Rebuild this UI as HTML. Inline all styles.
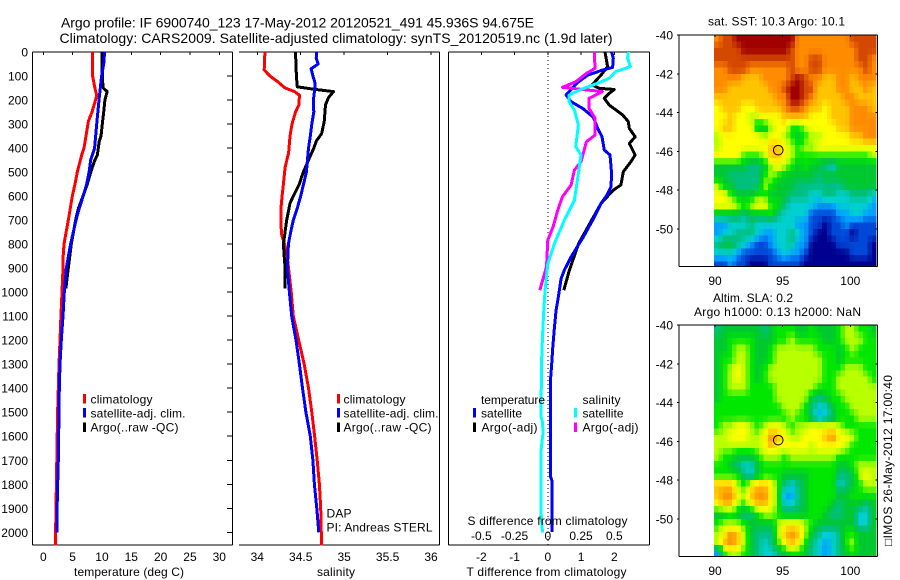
<!DOCTYPE html>
<html>
<head>
<meta charset="utf-8">
<style>
html,body{margin:0;padding:0;background:#fff;}
body{width:900px;height:580px;overflow:hidden;}
svg{display:block;}
text{font-family:"Liberation Sans",sans-serif;font-size:12px;fill:#000;}
.t{font-size:14px;}
</style>
</head>
<body>
<svg id="fig" xmlns="http://www.w3.org/2000/svg" width="900" height="580" viewBox="0 0 900 580">
<rect x="0" y="0" width="900" height="580" fill="#fff"/>
<text class="t" x="61" y="27.5" textLength="473" lengthAdjust="spacing">Argo profile: IF 6900740_123 17-May-2012 20120521_491 45.936S 94.675E</text>
<text class="t" x="59.5" y="43" textLength="553" lengthAdjust="spacing">Climatology: CARS2009. Satellite-adjusted climatology: synTS_20120519.nc (1.9d later)</text>

<g id="layer"></g>

<g>
<rect x="83" y="394" width="3" height="9.5" fill="#f00"/>
<rect x="83" y="408" width="3" height="9.5" fill="#00f"/>
<rect x="83" y="422.5" width="3" height="9.5" fill="#000"/>
<text x="90.5" y="403.5" textLength="62" lengthAdjust="spacing">climatology</text>
<text x="90.5" y="417.5" textLength="95" lengthAdjust="spacing">satellite-adj. clim.</text>
<text x="90.5" y="431.5" textLength="88" lengthAdjust="spacing">Argo(..raw -QC)</text>
</g>
<g>
<rect x="337" y="394" width="3" height="9.5" fill="#f00"/>
<rect x="337" y="408" width="3" height="9.5" fill="#00f"/>
<rect x="337" y="422.5" width="3" height="9.5" fill="#000"/>
<text x="343.5" y="403.5" textLength="62" lengthAdjust="spacing">climatology</text>
<text x="343.5" y="417.5" textLength="95" lengthAdjust="spacing">satellite-adj. clim.</text>
<text x="343.5" y="431.5" textLength="88" lengthAdjust="spacing">Argo(..raw -QC)</text>
</g>
<text x="326.5" y="517.5" textLength="25" lengthAdjust="spacing">DAP</text>
<text x="326.5" y="531.5" textLength="106" lengthAdjust="spacing">PI: Andreas STERL</text>
<g>
<text x="481" y="404" textLength="64" lengthAdjust="spacing">temperature</text>
<rect x="473" y="408" width="3" height="9.5" fill="#00f"/>
<rect x="473" y="422.5" width="3" height="9.5" fill="#000"/>
<text x="481" y="417.5" textLength="41" lengthAdjust="spacing">satellite</text>
<text x="481.5" y="431.5" textLength="56" lengthAdjust="spacing">Argo(-adj)</text>
<text x="582.5" y="404" textLength="38" lengthAdjust="spacing">salinity</text>
<rect x="574" y="408" width="3" height="9.5" fill="#0ff"/>
<rect x="574" y="422.5" width="3" height="9.5" fill="#f0f"/>
<text x="582.5" y="417.5" textLength="41" lengthAdjust="spacing">satellite</text>
<text x="582.5" y="431.5" textLength="56" lengthAdjust="spacing">Argo(-adj)</text>
</g>
<text x="74" y="576" textLength="110" lengthAdjust="spacing">temperature (deg C)</text>
<text x="317" y="576" textLength="38" lengthAdjust="spacing">salinity</text>
<text x="466.5" y="576" textLength="160" lengthAdjust="spacing">T difference from climatology</text>
<text x="467.5" y="525" textLength="160" lengthAdjust="spacing">S difference from climatology</text>
<text x="708" y="25.5" textLength="137" lengthAdjust="spacing">sat. SST: 10.3 Argo: 10.1</text>
<text x="713" y="302" textLength="80" lengthAdjust="spacing">Altim. SLA: 0.2</text>
<text x="694" y="316" textLength="167" lengthAdjust="spacing">Argo h1000: 0.13 h2000: NaN</text>
<text transform="translate(892,546) rotate(-90)" x="0" y="0" textLength="171" lengthAdjust="spacing">□IMOS 26-May-2012 17:00:40</text>
</svg>

<script>
// ---------- axis tick data ----------
const depthTicks = [0,100,200,300,400,500,600,700,800,900,1000,1100,1200,1300,1400,1500,1600,1700,1800,1900,2000];
const tempTicks = [0,5,10,15,20,25,30];
const salTicks = [34,34.5,35,35.5,36];
const salTickLabels = ['34','34.5','35','35.5','36'];
const tDiffTicks = [-2,-1,0,1,2];
const sDiffTicks = [-0.5,-0.25,0,0.25,0.5];
const sDiffTickLabels = ['-0.5','-0.25','0','0.25','0.5'];
const lonTicks = [90,95,100];
const latTicks = [-40,-42,-44,-46,-48,-50];
const argoLon = 94.675;
const argoLat = -45.936;

// ---------- temperature panel ----------
const tClimDepth = [0,100,150,180,200,250,290,350,400,430,500,550,600,700,800,850,900,1000,1100,1200,1300,1500,1750,2000,2055];
const tClimVal = [8.35,8.4,8.8,9.1,8.9,8.3,7.67,7.27,6.93,6.53,5.8,5.4,4.94,4.26,3.52,3.4,3.35,3.18,3.0,2.84,2.67,2.44,2.27,2.1,2.1];
const tSatDepth = [0,50,100,200,300,400,450,500,550,600,650,700,800,900,1000,1100,1200,1300,1400,1500,1700,1850,2000];
const tSatVal = [10.45,10.3,9.94,9.5,9.1,8.75,8.07,7.8,7.4,6.8,6.14,5.57,4.66,3.92,3.58,3.35,3.07,2.84,2.73,2.67,2.56,2.39,2.33];
const tArgoDepth = [0,100,150,165,200,250,300,350,370,430,450,480,500,550,600,650,700,800,900,985];
const tArgoVal = [10,10.06,10.2,10.9,10.5,10.3,10.06,9.83,9.55,9.2,8.8,8.35,8.1,7.5,6.76,6,5.5,4.77,4.26,3.86];

// ---------- salinity panel ----------
const sClimDepth = [0,75,100,125,150,165,180,220,250,300,350,420,480,550,600,650,720,760,830,1000,1100,1200,1300,1400,1500,1600,1700,1800,1900,2055];
const sClimVal = [34.088,34.08,34.146,34.24,34.32,34.43,34.485,34.48,34.44,34.4,34.377,34.36,34.32,34.3,34.285,34.273,34.273,34.28,34.338,34.39,34.415,34.477,34.54,34.59,34.627,34.66,34.69,34.715,34.73,34.74];
const sSatDepth = [0,25,50,70,100,130,160,200,250,300,350,400,500,600,650,700,750,800,900,1000,1100,1200,1300,1400,1500,1600,1700,1800,1900,2000];
const sSatVal = [34.685,34.678,34.7,34.62,34.64,34.665,34.66,34.646,34.65,34.627,34.61,34.59,34.565,34.5,34.46,34.415,34.385,34.358,34.346,34.37,34.396,34.446,34.485,34.52,34.56,34.61,34.64,34.658,34.685,34.708];
const sArgoDepth = [0,100,145,155,165,190,220,290,340,370,400,450,500,520,550,600,630,700,800,850,900,985];
const sArgoVal = [34.44,34.45,34.46,34.646,34.877,34.82,34.785,34.77,34.74,34.68,34.65,34.59,34.53,34.51,34.485,34.415,34.377,34.338,34.3,34.31,34.32,34.32];

// ---------- difference panel ----------
const dtSatDepth = [0,26,64,75,96,130,179,207,235,272,318,353,408,429,505,561,596,631,700,770,853,908,943,1019,1075,1144,1228,1311,1366,1769,1783,1998];
const dtSatVal = [1.92,1.97,1.95,1.65,1.2,0.87,0.55,0.7,1.05,1.37,1.5,1.63,1.7,1.87,1.92,1.9,1.78,1.6,1.35,1.07,0.7,0.5,0.4,0.32,0.25,0.2,0.15,0.11,0.08,0.08,0.12,0.12];
const dtArgoDepth = [0,61,96,137,151,156,172,193,221,262,290,318,353,381,429,457,499,554,575,631,700,797,908,992];
const dtArgoVal = [1.72,1.8,1.6,1.33,1.55,2.0,1.85,1.7,1.85,2.25,2.42,2.45,2.63,2.45,2.63,2.5,2.27,2.2,1.97,1.6,1.32,0.93,0.65,0.48];
const dsSatDepth = [0,26,61,82,110,130,158,179,207,242,304,394,429,505,617,700,797,881,992,1075,1158,1255,1450,1519,1533,1582,1658,1922,2001];
const dsSatVal = [0.605,0.6,0.62,0.51,0.46,0.375,0.24,0.16,0.16,0.2,0.23,0.21,0.25,0.23,0.2,0.125,0.05,0,-0.02,-0.03,-0.0375,-0.045,-0.05,-0.05,-0.042,-0.035,-0.05,-0.05,-0.04];
const dsArgoDepth = [0,68,89,124,147,165,179,193,235,276,346,374,457,492,554,603,658,728,783,894,992];
const dsArgoVal = [0.35,0.355,0.29,0.21,0.11,0.41,0.36,0.31,0.31,0.355,0.355,0.29,0.25,0.2,0.175,0.11,0.075,0.04,0,-0.01,-0.06];

// ---------- maps: colour level per 0.5 degree cell, rows from 40S, columns from 90E ----------
const sstLevels = [
[10,11,11,12,12,12,12,12,12,12,12,12,10,10,10,10,10,10,10,10,11,11,11,11],
[11,11,11,11,12,12,12,12,12,12,12,11,10,10,10,10,10,10,10,10,10,11,11,11],
[11,11,11,11,11,11,11,11,11,11,11,11,10,10,11,11,10,10,10,10,10,11,11,10],
[10,10,11,11,11,10,10,10,10,10,10,11,10,10,11,11,10,10,10,10,10,10,11,10],
[10,10,10,10,9,9,9,10,10,10,10,11,12,11,10,10,9,9,10,10,9,10,10,10],
[10,10,9,9,9,9,9,9,10,10,11,12,12,11,11,9,9,9,10,10,9,9,10,9],
[9,9,9,9,9,9,9,9,9,10,10,12,12,11,10,9,9,9,9,10,10,9,9,9],
[8,9,9,9,8,8,9,9,9,9,10,11,11,10,9,9,8,9,9,9,10,10,10,9],
[8,8,9,8,8,7,7,8,8,8,9,9,9,9,8,8,8,9,9,9,10,10,10,10],
[8,9,9,8,8,8,5,5,7,8,8,6,6,7,8,8,8,8,9,9,10,10,10,10],
[7,8,8,8,8,8,8,7,8,8,7,6,5,6,7,7,8,8,8,8,9,9,10,10],
[7,8,8,8,8,8,8,8,9,9,8,7,6,7,7,8,8,8,8,8,8,8,8,8],
[8,8,8,8,6,6,6,7,9,9,8,7,6,6,6,6,6,6,6,6,6,6,6,7],
[5,5,5,5,5,4,4,5,7,8,7,6,5,6,5,5,4,3,5,5,5,5,5,5],
[5,5,4,4,4,4,4,6,7,6,5,5,5,5,5,4,5,5,5,5,5,5,5,5],
[7,5,5,4,4,4,4,7,6,5,5,5,4,4,4,4,4,4,4,5,5,5,5,5],
[8,8,6,5,5,5,6,6,5,5,5,4,4,4,3,3,4,4,3,3,4,4,4,3],
[8,8,8,7,6,7,8,8,6,6,4,3,3,3,3,2,2,2,3,3,3,3,3,2],
[5,5,5,5,4,5,5,5,6,4,3,3,3,3,1,1,1,1,2,2,3,3,2,2],
[2,2,3,3,3,4,3,3,3,3,3,3,2,2,1,1,0,1,1,2,1,1,1,1],
[2,3,3,4,4,4,3,2,2,3,3,4,3,2,1,0,0,1,1,1,0,1,1,1],
[4,5,5,4,3,2,1,1,2,3,3,4,2,2,0,0,0,0,1,1,1,1,1,0],
[3,3,3,2,1,1,1,1,1,2,3,2,2,1,0,0,0,0,0,0,1,1,1,0],
[1,1,2,1,1,0,0,0,1,1,1,1,1,0,0,0,0,0,0,0,0,0,0,0]
];
const slaLevels = [
[4,5,5,5,5,5,5,4,5,6,6,6,5,5,6,5,5,5,6,7,7,6,6,5],
[5,5,6,6,6,6,5,5,5,6,6,7,6,6,6,6,5,5,6,7,7,7,6,6],
[5,5,6,7,7,6,5,5,6,7,7,7,7,7,7,6,6,6,5,6,7,6,6,6],
[5,6,6,7,7,6,5,5,6,7,7,7,7,7,7,7,6,6,5,6,6,6,6,6],
[5,6,7,8,7,6,5,6,7,7,7,7,7,7,7,7,6,6,6,7,7,7,6,6],
[5,6,7,8,7,6,5,6,7,7,7,7,7,7,7,7,6,6,7,7,7,7,7,6],
[5,6,7,7,7,6,6,6,6,7,7,7,7,7,7,6,6,6,7,7,7,7,7,7],
[5,6,6,6,6,6,6,6,6,7,7,7,7,7,5,4,5,6,6,7,7,7,7,7],
[6,6,6,6,6,6,6,6,6,6,7,7,7,6,4,3,3,5,6,6,7,7,7,7],
[6,6,6,6,6,6,6,6,6,6,6,7,6,6,4,2,3,4,6,6,6,7,7,7],
[6,7,7,8,8,7,6,7,8,8,7,6,7,7,8,8,8,8,7,6,6,6,6,6],
[7,7,8,8,8,7,7,8,10,9,8,7,7,8,8,8,9,10,8,8,7,6,6,6],
[7,7,7,7,7,7,7,8,9,8,8,8,8,8,7,8,8,8,8,7,6,6,6,6],
[7,6,6,5,5,5,6,7,7,7,6,7,7,7,7,7,7,7,6,6,6,6,6,6],
[6,6,5,4,3,3,5,6,6,6,6,6,6,6,6,6,6,6,5,5,6,7,7,7],
[6,6,6,6,4,3,5,6,6,6,5,5,5,5,6,6,6,6,4,4,5,7,8,7],
[9,9,9,7,6,8,9,9,8,6,4,3,4,5,6,6,6,6,3,4,5,6,7,7],
[9,10,10,8,7,9,10,10,8,6,2,2,4,5,6,6,6,6,5,5,6,6,6,6],
[8,9,9,7,6,8,9,9,8,6,3,3,4,5,6,6,6,5,4,5,5,5,4,5],
[5,5,6,5,4,4,6,7,7,6,5,5,5,5,6,6,5,4,4,5,5,3,3,5],
[6,7,7,7,6,5,5,5,5,7,8,8,8,7,6,5,5,5,5,5,5,3,3,5],
[7,8,10,9,7,5,4,4,4,7,9,10,9,7,5,4,3,3,4,6,6,5,5,5],
[7,9,10,9,7,5,4,3,4,6,8,9,8,6,4,3,2,3,4,6,7,5,5,5],
[2,6,7,7,6,5,4,3,3,4,5,6,6,5,4,3,2,3,4,5,6,5,5,5]
];
const levelColors = ['#000090','#0048d8','#00a0ff','#00d0d0','#00c080','#00c830','#00e800','#b8ff00','#ffff00','#ffc400','#ff8c00','#d44800','#a00000'];

// ---------- drawing ----------
const NS = 'http://www.w3.org/2000/svg';
const layer = document.getElementById('layer');

function make(tag, attrs, parent) {
  const el = document.createElementNS(NS, tag);
  for (const k in attrs) el.setAttribute(k, attrs[k]);
  (parent || layer).appendChild(el);
  return el;
}
function linearAxis(v0, p0, v1, p1) {
  return function (v) { return p0 + (v - v0) * (p1 - p0) / (v1 - v0); };
}
const yDepth = linearAxis(0, 52, 2000, 532.3);
const xTemp = linearAxis(0, 43.3, 30, 219.3);
const xSal = linearAxis(34, 257.3, 36, 431);
const xTDiff = linearAxis(-2, 481.3, 2, 614.3);
const xSDiff = linearAxis(-0.5, 481.3, 0.5, 614.3);
const xLon = linearAxis(90, 715, 100, 850.3);
const yLatTop = linearAxis(-40, 35, -50, 229);
const yLatBottom = linearAxis(-40, 325, -50, 519);

function axisLine(x1, y1, x2, y2, parent) {
  const ln = make('line', { x1: x1, y1: y1, x2: x2, y2: y2, stroke: '#000', 'stroke-width': 1, 'shape-rendering': 'crispEdges' }, parent);
  
  
  return ln;
}
function tickLabel(str, x, y, anchor, parent) {
  const t = make('text', { x: x, y: y, 'text-anchor': anchor }, parent);
  t.textContent = str;
  
  
  return t;
}
function series(depths, values, xAxis, color, name, parent) {
  const pts = depths.map(function (d, i) {
    return xAxis(values[i]).toFixed(1) + ',' + yDepth(d).toFixed(1);
  }).join(' ');
  const line = make('polyline', { points: pts, fill: 'none', stroke: color, 'stroke-width': 3, 'stroke-linejoin': 'round', 'shape-rendering': 'crispEdges' }, parent);
  
  
  return line;
}
function levelColor(level) {
  const top = levelColors.length - 1;
  const v = Math.max(0, Math.min(top, level));
  const i = Math.min(top - 1, Math.floor(v));
  const f = v - i;
  const parse = function (hex, k) { return parseInt(hex.substr(1 + 2 * k, 2), 16); };
  const parts = [0, 1, 2].map(function (k) {
    return Math.round(parse(levelColors[i], k) * (1 - f) + parse(levelColors[i + 1], k) * f);
  });
  return 'rgb(' + parts.join(',') + ')';
}
function sampleLevel(levels, u, v) {
  const maxR = levels.length - 1, maxC = levels[0].length - 1;
  const uu = Math.max(0, Math.min(maxC, u)), vv = Math.max(0, Math.min(maxR, v));
  const c0 = Math.min(maxC - 1, Math.floor(uu)), r0 = Math.min(maxR - 1, Math.floor(vv));
  const fu = uu - c0, fv = vv - r0;
  return (levels[r0][c0] * (1 - fu) + levels[r0][c0 + 1] * fu) * (1 - fv) +
         (levels[r0 + 1][c0] * (1 - fu) + levels[r0 + 1][c0 + 1] * fu) * fv;
}

const TOP = 52, BOTTOM = 545;

// panel 1 frame and ticks
const g1 = make('g', {});


axisLine(32.5, TOP, 232.5, TOP, g1);
axisLine(32.5, BOTTOM, 232.5, BOTTOM, g1);
axisLine(32.5, TOP, 32.5, BOTTOM, g1);
axisLine(232.5, TOP, 232.5, BOTTOM, g1);
depthTicks.forEach(function (d) {
  axisLine(227, yDepth(d), 232.5, yDepth(d), g1);
  tickLabel(String(d), 28, yDepth(d) + 4.5, 'end', g1);
});
tempTicks.forEach(function (v) {
  axisLine(xTemp(v), TOP, xTemp(v), TOP + 3, g1);
  tickLabel(String(v), xTemp(v), 561, 'middle', g1);
});

// panel 2 frame and ticks
const g2 = make('g', {});


axisLine(239, TOP, 439.5, TOP, g2);
axisLine(239, BOTTOM, 439.5, BOTTOM, g2);
axisLine(439.5, TOP, 439.5, BOTTOM, g2);
salTicks.forEach(function (v, i) {
  axisLine(xSal(v), TOP, xSal(v), TOP + 3, g2);
  tickLabel(salTickLabels[i], xSal(v), 561, 'middle', g2);
});

// panel 3 frame and ticks
const g3 = make('g', {});


axisLine(448.5, TOP, 649.5, TOP, g3);
axisLine(448.5, BOTTOM, 649.5, BOTTOM, g3);
axisLine(448.5, TOP, 448.5, BOTTOM, g3);
axisLine(649.5, TOP, 649.5, BOTTOM, g3);
tDiffTicks.forEach(function (v) {
  axisLine(xTDiff(v), TOP, xTDiff(v), TOP + 3, g3);
  tickLabel(String(v), xTDiff(v), 561, 'middle', g3);
});
sDiffTicks.forEach(function (v, i) {
  tickLabel(sDiffTickLabels[i], xSDiff(v), 540, 'middle', g3);
});
const zeroLine = make('line', { x1: xTDiff(0), y1: TOP, x2: xTDiff(0), y2: BOTTOM, stroke: '#000', 'stroke-width': 1, 'stroke-dasharray': '1 3', 'shape-rendering': 'crispEdges' }, g3);



// series
series(tClimDepth, tClimVal, xTemp, '#f00', 'temperature-climatology-line', g1);
series(tArgoDepth, tArgoVal, xTemp, '#000', 'temperature-argo-line', g1);
series(tSatDepth, tSatVal, xTemp, '#00f', 'temperature-satellite-line', g1);
series(sClimDepth, sClimVal, xSal, '#f00', 'salinity-climatology-line', g2);
series(sArgoDepth, sArgoVal, xSal, '#000', 'salinity-argo-line', g2);
series(sSatDepth, sSatVal, xSal, '#00f', 'salinity-satellite-line', g2);
series(dtArgoDepth, dtArgoVal, xTDiff, '#000', 'temperature-difference-argo-line', g3);
series(dtSatDepth, dtSatVal, xTDiff, '#00f', 'temperature-difference-satellite-line', g3);
series(dsArgoDepth, dsArgoVal, xSDiff, '#f0f', 'salinity-difference-argo-line', g3);
series(dsSatDepth, dsSatVal, xSDiff, '#0ff', 'salinity-difference-satellite-line', g3);

// maps: the 0.5 degree level grids are shown on the original 1/3 degree pixel raster
function drawMap(levels, yLat, top, bottom, name, labelY) {
  const g = make('g', {});
  
  
  for (let r = 0; r < 36; r++) {
    for (let c = 0; c < 36; c++) {
      const lon0 = 90 + c / 3, lat0 = -40 - r / 3;
      const x0 = xLon(lon0) - 1, x1 = Math.min(xLon(lon0 + 1 / 3) - 1, 877.5);
      const y0 = yLat(lat0), y1 = Math.min(yLat(lat0 - 1 / 3), bottom);
      const level = sampleLevel(levels, (c + 0.5) / 1.5 - 0.5, (r + 0.5) / 1.5 - 0.5);
      const cell = make('rect', { x: x0.toFixed(2), y: y0.toFixed(2), width: (x1 - x0).toFixed(2), height: (y1 - y0).toFixed(2), fill: levelColor(level), 'shape-rendering': 'crispEdges' }, g);
      
      
    }
  }
  axisLine(679, top, 877.5, top, g);
  axisLine(679, bottom, 877.5, bottom, g);
  axisLine(679, top, 679, bottom, g);
  axisLine(877.5, top, 877.5, bottom, g);
  lonTicks.forEach(function (v) {
    axisLine(xLon(v), top, xLon(v), top + 2, g);
    tickLabel(String(v), xLon(v), labelY, 'middle', g);
  });
  latTicks.forEach(function (v) {
    axisLine(677, yLat(v), 679, yLat(v), g);
    axisLine(875.5, yLat(v), 877.5, yLat(v), g);
    tickLabel(String(v), 673, yLat(v) + 4.5, 'end', g);
  });
  const marker = make('circle', { cx: xLon(argoLon), cy: yLat(argoLat), r: 4.8, fill: 'none', stroke: '#000', 'stroke-width': 1 }, g);
  
  
}
drawMap(sstLevels, yLatTop, 35, 266.7, 'sst-map', 285);
drawMap(slaLevels, yLatBottom, 325, 556.7, 'sla-map', 575);
</script>
</body>
</html>
